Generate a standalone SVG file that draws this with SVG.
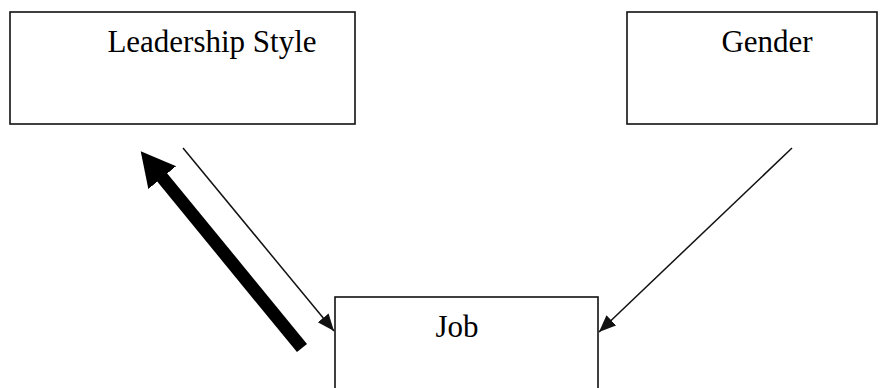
<svg xmlns="http://www.w3.org/2000/svg" width="880" height="388" viewBox="0 0 880 388">
<style>
.box{fill:#fff;stroke:#111;stroke-width:1.6}
.lbl{font-family:"Liberation Serif","Times New Roman",serif;font-size:31px;fill:#000;text-anchor:middle}
.thin{stroke:#111;stroke-width:1.5;fill:none}
.thick{stroke:#000;stroke-width:13;fill:none}
</style>
<defs>
<marker id="thinHead" markerUnits="userSpaceOnUse" markerWidth="18" markerHeight="16" viewBox="0 -8 18 16" refX="17" refY="0" orient="auto">
<path d="M0,-7 L17,0 L0,7 z" fill="#111"/>
</marker>
<marker id="bigHead" markerUnits="userSpaceOnUse" markerWidth="40" markerHeight="40" viewBox="0 -20 40 40" refX="2" refY="0" orient="auto">
<path d="M0,-18 L34,0 L0,18 z" fill="#000"/>
</marker>
</defs>
<rect width="880" height="388" fill="#fff"/>
<g id="leadership">
<rect class="box" x="10" y="12" width="345" height="112"/>
<text class="lbl" x="212" y="52">Leadership Style</text>
</g>
<g id="gender">
<rect class="box" x="627" y="12" width="250" height="112"/>
<text class="lbl" x="767" y="52">Gender</text>
</g>
<g id="job">
<rect class="box" x="335" y="297" width="263" height="110"/>
<text class="lbl" x="457" y="337">Job</text>
</g>
<g id="connectors">
<line class="thin" x1="183" y1="148" x2="334" y2="331" marker-end="url(#thinHead)"/>
<line class="thin" x1="792" y1="148" x2="599" y2="332" marker-end="url(#thinHead)"/>
<line class="thick" x1="302" y1="348" x2="161" y2="176" marker-end="url(#bigHead)"/>
</g>
</svg>
